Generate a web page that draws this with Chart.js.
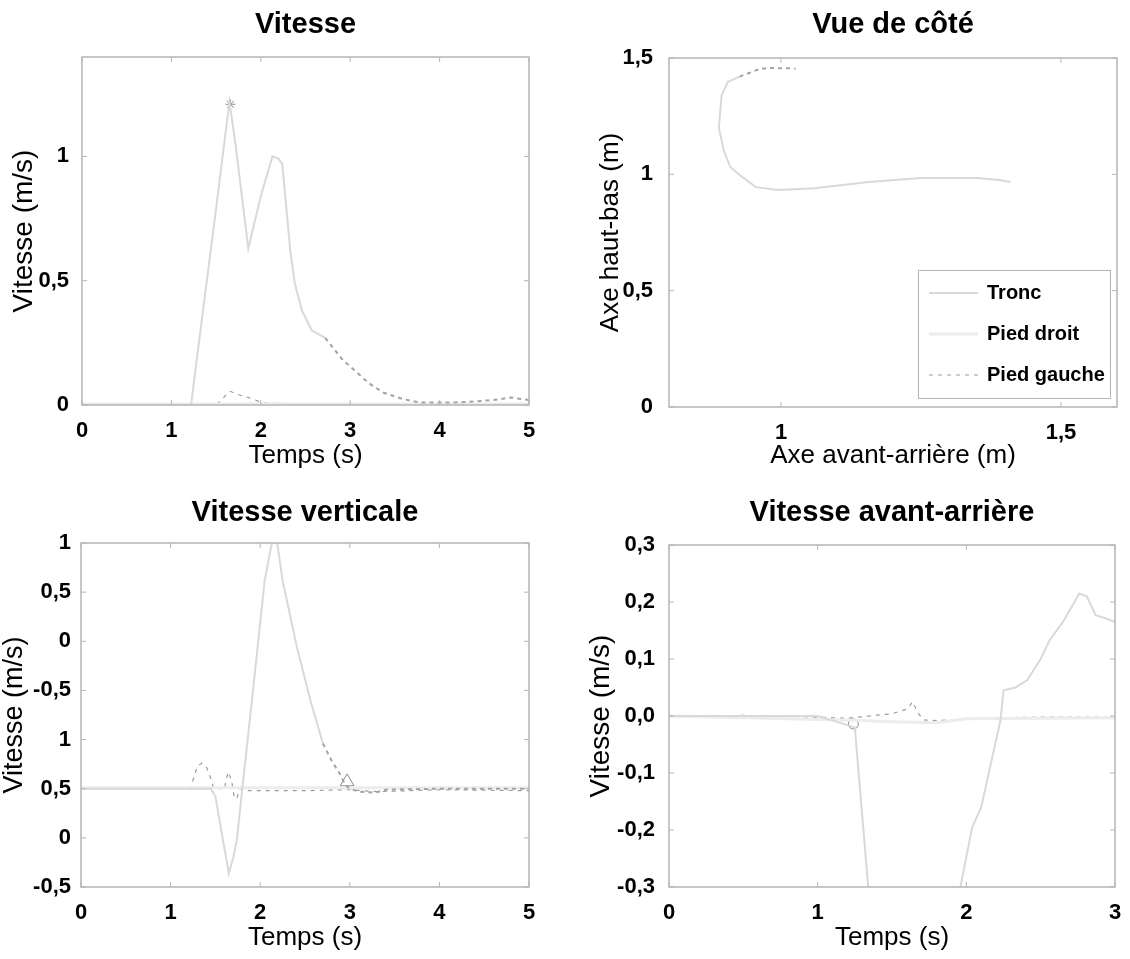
<!DOCTYPE html>
<html lang="fr">
<head>
<meta charset="utf-8">
<title>Vitesse / Vue de côté</title>
<script src="https://cdn.jsdelivr.net/npm/chart.js@4.4.1/dist/chart.umd.min.js"></script>
<style>
  html, body { margin: 0; padding: 0; background: #fff; }
  #page { position: relative; width: 1130px; height: 959px; overflow: hidden; }
  canvas { position: absolute; }
</style>
</head>
<body>
<div id="page">
  <canvas id="cVitesse" width="565" height="478" style="left:0;top:0"></canvas>
  <canvas id="cCote" width="565" height="478" style="left:565px;top:0"></canvas>
  <canvas id="cVerticale" width="565" height="481" style="left:0;top:478px"></canvas>
  <canvas id="cAvant" width="565" height="481" style="left:565px;top:478px"></canvas>
</div>
<script>
// --- 1. DONNÉES ---

// Vitesse (m/s) en fonction du temps (s)
const vitTroncT = [0, 0.5, 1.0, 1.22, 1.3, 1.4, 1.5, 1.6, 1.65, 1.72, 1.86, 2.0, 2.13, 2.2, 2.24, 2.33, 2.38, 2.46, 2.57, 2.72, 2.92, 3.08, 3.2, 3.37, 3.59, 3.78, 4.1, 4.3, 4.6, 4.8, 5.0];
const vitTroncV = [0, 0, 0, 0, 0.23, 0.51, 0.79, 1.08, 1.22, 1.04, 0.63, 0.84, 1.0, 0.99, 0.97, 0.62, 0.49, 0.38, 0.30, 0.27, 0.18, 0.13, 0.09, 0.05, 0.024, 0.01, 0.01, 0.012, 0.02, 0.03, 0.02];
const vitDroitT = [0, 1, 2, 3, 4, 5];
const vitDroitV = [0.004, 0.004, 0.005, 0.004, 0.004, 0.004];
const vitGaucheT = [0, 1.5, 1.56, 1.62, 1.66, 1.72, 1.8, 1.88, 1.94, 2.0, 2.5, 3, 3.5, 4, 4.5, 5];
const vitGaucheV = [0.002, 0.002, 0.02, 0.045, 0.055, 0.045, 0.036, 0.028, 0.02, 0.01, 0.003, 0.002, 0.002, 0.003, 0.003, 0.004];
const vitPicT = [1.66];
const vitPicV = [1.21];

// Vue de côté : trajectoire du tronc (m)
const coteTroncX = [1.41, 1.39, 1.35, 1.25, 1.156, 1.06, 0.994, 0.955, 0.93, 0.91, 0.898, 0.889, 0.894, 0.905, 0.926, 0.962, 0.98, 1.026];
const coteTroncY = [0.967, 0.976, 0.984, 0.984, 0.967, 0.94, 0.933, 0.945, 0.99, 1.03, 1.10, 1.2, 1.34, 1.397, 1.42, 1.453, 1.457, 1.455];
const coteDroitX = [];
const coteDroitY = [];
const coteGaucheX = [];
const coteGaucheY = [];

// Vitesse verticale (échelle interne, étiquettes ci-dessous)
const vertTroncT = [0, 1.0, 1.45, 1.5, 1.58, 1.65, 1.7, 1.74, 1.8, 1.92, 2.05, 2.13, 2.19, 2.25, 2.41, 2.56, 2.70, 2.80, 2.89, 2.95, 3.0, 3.1, 3.28, 3.4, 4, 5];
const vertTroncV = [1.0, 1.0, 1.0, 0.92, 0.5, 0.14, 0.3, 0.48, 1.0, 2.0, 3.12, 3.5, 3.5, 3.12, 2.44, 1.9, 1.46, 1.28, 1.15, 1.04, 1.0, 0.97, 0.96, 0.99, 1.0, 1.0];
const vertDroitT = [0, 5];
const vertDroitV = [1.01, 1.01];
const vertGaucheT = [0, 1.22, 1.26, 1.3, 1.35, 1.4, 1.45, 1.48, 1.6, 1.64, 1.68, 1.71, 1.74, 1.77, 1.85, 2.5, 3.0, 3.3, 4, 5];
const vertGaucheV = [1.0, 1.0, 1.12, 1.23, 1.26, 1.22, 1.1, 1.0, 1.0, 1.17, 1.09, 0.91, 0.9, 1.0, 0.98, 0.98, 0.99, 0.97, 0.99, 0.98];
const vertRepereT = [2.97];
const vertRepereV = [1.07];

// Vitesse avant-arrière (m/s)
const avTroncT = [0, 0.5, 1.0, 1.25, 1.34, 1.5, 1.7, 1.9, 1.96, 2.04, 2.1, 2.23, 2.25, 2.33, 2.41, 2.5, 2.56, 2.65, 2.76, 2.81, 2.87, 2.93, 3.0];
const avTroncV = [0, 0, 0, -0.02, -0.3, -0.45, -0.5, -0.4, -0.3, -0.195, -0.16, -0.007, 0.045, 0.05, 0.063, 0.1, 0.133, 0.165, 0.215, 0.21, 0.177, 0.172, 0.165];
const avDroitT = [0, 1.3, 1.5, 1.8, 2, 3];
const avDroitV = [0, -0.008, -0.01, -0.012, -0.005, -0.003];
const avGaucheT = [0, 0.5, 1.0, 1.2, 1.5, 1.6, 1.64, 1.67, 1.71, 1.8, 1.9, 2.2, 2.5, 2.8, 3.0];
const avGaucheV = [0, 0.001, -0.002, -0.004, 0.004, 0.012, 0.025, 0.007, -0.007, -0.008, -0.007, -0.003, -0.002, -0.002, -0.002];
const avRepereT = [1.24];
const avRepereV = [-0.014];

// Graduations
const tempsTicks5 = [0, 1, 2, 3, 4, 5];
const tempsLabels5 = ['0', '1', '2', '3', '4', '5'];
const tempsTicks3 = [0, 1, 2, 3];
const tempsLabels3 = ['0', '1', '2', '3'];
const vitTicks = [0, 0.5, 1];
const vitLabels = ['0', '0,5', '1'];
const coteXTicks = [1, 1.5];
const coteXLabels = ['1', '1,5'];
const coteYTicks = [0, 0.5, 1, 1.5];
const coteYLabels = ['0', '0,5', '1', '1,5'];
const vertTicks = [0, 0.5, 1, 1.5, 2, 2.5, 3, 3.5];
const vertLabels = ['-0,5', '0', '0,5', '1', '-0,5', '0', '0,5', '1'];
const avTicks = [-0.3, -0.2, -0.1, 0, 0.1, 0.2, 0.3];
const avLabels = ['-0,3', '-0,2', '-0,1', '0,0', '0,1', '0,2', '0,3'];

// --- 2. STYLES ---
const SANS = "'Liberation Sans', Arial, sans-serif";
const CADRE = '#b5b5b5';

const STYLE = {
    tronc:  { borderColor: '#d9d9d9', borderWidth: 2 },
    droit:  { borderColor: '#ececec', borderWidth: 3 },
    gauche: { borderColor: '#9c9c9c', borderWidth: 1.2, borderDash: [4, 5] }
};

const pts = (xs, ys) => xs.map((x, i) => ({ x, y: ys[i] }));

function serie(label, data, style, extra) {
    return Object.assign({ label, data, showLine: true, pointRadius: 0, fill: false, tension: 0 }, style, extra || {});
}

function repere(data, forme, taille) {
    return {
        label: '', data, showLine: false, horsLegende: true,
        pointStyle: forme, pointRadius: taille, borderColor: '#8a8a8a',
        backgroundColor: 'rgba(0,0,0,0)', borderWidth: 1
    };
}

// Queue de la courbe du tronc en tirets plus sombres (comme sur le scan)
const queue = test => ({
    borderColor: c => test(c.p0.parsed) ? '#a3a3a3' : undefined,
    borderDash: c => test(c.p0.parsed) ? [4, 4] : undefined
});

// --- 3. PLUGINS : cadre + graduations intérieures, légende encadrée ---
const cadre = {
    id: 'cadre',
    afterDatasetsDraw(chart) {
        const { ctx, chartArea: a, scales: { x, y } } = chart;
        ctx.save();
        ctx.strokeStyle = CADRE;
        ctx.lineWidth = 1.5;
        ctx.strokeRect(a.left, a.top, a.right - a.left, a.bottom - a.top);
        ctx.lineWidth = 1;
        ctx.beginPath();
        x.ticks.forEach(t => {
            const px = x.getPixelForValue(t.value);
            ctx.moveTo(px, a.bottom); ctx.lineTo(px, a.bottom - 5);
            ctx.moveTo(px, a.top); ctx.lineTo(px, a.top + 5);
        });
        y.ticks.forEach(t => {
            const py = y.getPixelForValue(t.value);
            ctx.moveTo(a.left, py); ctx.lineTo(a.left + 5, py);
            ctx.moveTo(a.right, py); ctx.lineTo(a.right - 5, py);
        });
        ctx.stroke();
        ctx.restore();
    }
};

const legendeCadre = {
    id: 'legendeCadre',
    afterDatasetsDraw(chart) {
        const { ctx, chartArea: a } = chart;
        const w = 192, h = 128;
        const x0 = a.right - 7 - w, y0 = a.bottom - 9 - h;
        const rangs = [23, 64, 105];
        ctx.save();
        ctx.fillStyle = '#fff';
        ctx.fillRect(x0, y0, w, h);
        ctx.strokeStyle = CADRE;
        ctx.lineWidth = 1;
        ctx.strokeRect(x0 + 0.5, y0 + 0.5, w, h);
        chart.data.datasets.filter(d => !d.horsLegende).forEach((d, i) => {
            const yy = y0 + rangs[i];
            ctx.strokeStyle = d.borderColor;
            ctx.lineWidth = d.borderWidth;
            ctx.setLineDash(d.borderDash || []);
            ctx.beginPath();
            ctx.moveTo(x0 + 11, yy);
            ctx.lineTo(x0 + 60, yy);
            ctx.stroke();
            ctx.setLineDash([]);
            ctx.fillStyle = '#000';
            ctx.font = 'bold 20px ' + SANS;
            ctx.textBaseline = 'middle';
            ctx.fillText(d.label, x0 + 69, yy);
        });
        ctx.restore();
    }
};

// --- 4. CONSTRUCTION D'UN SOUS-GRAPHIQUE ---
function tracer(id, c) {
    const tickFont = { family: SANS, size: 22, weight: 'bold', lineHeight: 1.2 };
    return new Chart(document.getElementById(id), {
        type: 'scatter',
        data: { datasets: c.datasets },
        options: {
            responsive: false,
            animation: false,
            devicePixelRatio: 1,
            layout: { padding: { left: 0, top: 0, right: c.padRight, bottom: 0 } },
            plugins: {
                legend: { display: false },
                tooltip: { enabled: false },
                title: {
                    display: true, text: c.title, fullSize: false, color: '#000',
                    font: { family: SANS, size: 29, weight: 'bold', lineHeight: 1 },
                    padding: c.titlePad
                }
            },
            scales: {
                x: {
                    type: 'linear', min: c.xMin, max: c.xMax,
                    grid: { display: false }, border: { display: false },
                    afterBuildTicks: s => { s.ticks = c.xTicks.map(v => ({ value: v })); },
                    afterFit: s => { s.height = c.xHeight; },
                    ticks: {
                        color: '#000', font: tickFont, padding: 5, maxRotation: 0, autoSkip: false,
                        callback: (v, i) => c.xLabels[i]
                    },
                    title: {
                        display: true, text: c.xTitle, color: '#000',
                        font: { family: SANS, size: 26, lineHeight: 1 },
                        padding: { top: 0, bottom: c.xTitlePad }
                    }
                },
                y: {
                    type: 'linear', min: c.yMin, max: c.yMax,
                    grid: { display: false }, border: { display: false },
                    afterBuildTicks: s => { s.ticks = c.yTicks.map(v => ({ value: v })); },
                    afterFit: s => { s.width = c.yWidth; },
                    ticks: {
                        color: '#000', font: tickFont, padding: c.yTickPad, autoSkip: false,
                        callback: (v, i) => c.yLabels[i]
                    },
                    title: {
                        display: true, text: c.yTitle, color: '#000',
                        font: { family: SANS, size: c.yTitleSize, lineHeight: 1 },
                        padding: { top: c.yTitlePad, bottom: 0 }
                    }
                }
            }
        },
        plugins: c.legende ? [cadre, legendeCadre] : [cadre]
    });
}

// --- 5. LES QUATRE GRAPHIQUES ---
tracer('cVitesse', {
    title: 'Vitesse', titlePad: { top: 10.5, bottom: 17.5 },
    xTitle: 'Temps (s)', xTitlePad: 9, xHeight: 73,
    yTitle: 'Vitesse (m/s)', yTitleSize: 28, yTitlePad: 10, yWidth: 82, yTickPad: 5,
    padRight: 36,
    xMin: 0, xMax: 5, xTicks: tempsTicks5, xLabels: tempsLabels5,
    yMin: 0, yMax: 1.4, yTicks: vitTicks, yLabels: vitLabels,
    datasets: [
        serie('Tronc', pts(vitTroncT, vitTroncV), STYLE.tronc, { segment: queue(p => p.x >= 2.7) }),
        serie('Pied droit', pts(vitDroitT, vitDroitV), STYLE.droit),
        serie('Pied gauche', pts(vitGaucheT, vitGaucheV), STYLE.gauche),
        repere(pts(vitPicT, vitPicV), 'star', 5)
    ]
});

tracer('cCote', {
    title: 'Vue de côté', titlePad: { top: 10.5, bottom: 18.5 },
    xTitle: 'Axe avant-arrière (m)', xTitlePad: 9, xHeight: 71,
    yTitle: 'Axe haut-bas (m)', yTitleSize: 26, yTitlePad: 33, yWidth: 104, yTickPad: 8,
    padRight: 13, legende: true,
    xMin: 0.8, xMax: 1.6, xTicks: coteXTicks, xLabels: coteXLabels,
    yMin: 0, yMax: 1.5, yTicks: coteYTicks, yLabels: coteYLabels,
    datasets: [
        serie('Tronc', pts(coteTroncX, coteTroncY), STYLE.tronc, { segment: queue(p => p.y >= 1.415) }),
        serie('Pied droit', pts(coteDroitX, coteDroitY), STYLE.droit),
        serie('Pied gauche', pts(coteGaucheX, coteGaucheY), STYLE.gauche)
    ]
});

tracer('cVerticale', {
    title: 'Vitesse verticale', titlePad: { top: 20, bottom: 16 },
    xTitle: 'Temps (s)', xTitlePad: 8, xHeight: 72,
    yTitle: 'Vitesse (m/s)', yTitleSize: 27, yTitlePad: 1, yWidth: 81, yTickPad: 2,
    padRight: 36,
    xMin: 0, xMax: 5, xTicks: tempsTicks5, xLabels: tempsLabels5,
    yMin: 0, yMax: 3.5, yTicks: vertTicks, yLabels: vertLabels,
    datasets: [
        serie('Tronc', pts(vertTroncT, vertTroncV), STYLE.tronc, { segment: queue(p => p.x >= 2.7) }),
        serie('Pied droit', pts(vertDroitT, vertDroitV), STYLE.droit),
        serie('Pied gauche', pts(vertGaucheT, vertGaucheV), STYLE.gauche),
        repere(pts(vertRepereT, vertRepereV), 'triangle', 8)
    ]
});

tracer('cAvant', {
    title: 'Vitesse avant-arrière', titlePad: { top: 20, bottom: 18 },
    xTitle: 'Temps (s)', xTitlePad: 8, xHeight: 72,
    yTitle: 'Vitesse (m/s)', yTitleSize: 28, yTitlePad: 22, yWidth: 104, yTickPad: 6,
    padRight: 15,
    xMin: 0, xMax: 3, xTicks: tempsTicks3, xLabels: tempsLabels3,
    yMin: -0.3, yMax: 0.3, yTicks: avTicks, yLabels: avLabels,
    datasets: [
        serie('Tronc', pts(avTroncT, avTroncV), STYLE.tronc),
        serie('Pied droit', pts(avDroitT, avDroitV), STYLE.droit),
        serie('Pied gauche', pts(avGaucheT, avGaucheV), STYLE.gauche),
        repere(pts(avRepereT, avRepereV), 'circle', 5)
    ]
});
</script>
</body>
</html>
